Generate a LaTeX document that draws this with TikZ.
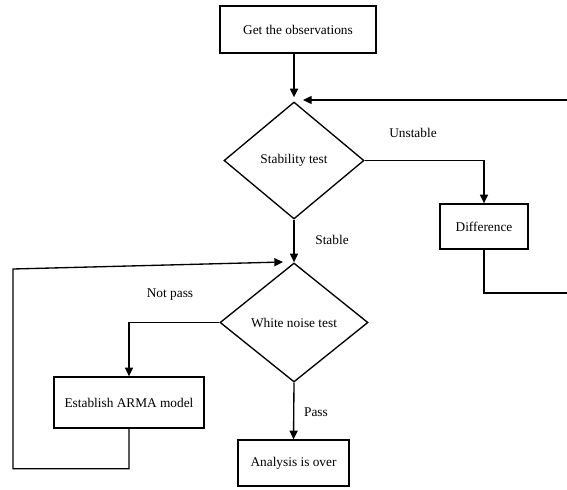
\documentclass[tikz,border=0pt]{standalone}
\usepackage{fontspec}
\setmainfont{Liberation Serif}
\usetikzlibrary{shapes.geometric,arrows.meta}
\tikzset{
  box/.style={draw,line width=1pt,inner sep=0pt},
  test/.style={draw,diamond,line width=1pt,inner sep=0pt},
  line/.style={line width=1pt},
  arr/.style={line,-{Triangle[length=6.5pt,width=6pt]}},
}
\begin{document}
\begin{tikzpicture}[x=0.75pt,y=-0.75pt,font=\fontsize{10}{12}\selectfont]
\useasboundingbox (0,0) rectangle (567,489);
\node[box,minimum width=117pt,minimum height=35.25pt] (obs) at (298,29.5) {Get the observations};
\node[test,minimum width=105pt,minimum height=87.75pt] (stab) at (294,160.5) {Stability test};
\node[box,minimum width=66pt,minimum height=33.75pt] (diff) at (484,226.5) {Difference};
\node[test,minimum width=111pt,minimum height=89.25pt] (wn) at (294,322.5) {White noise test};
\node[box,minimum width=112.5pt,minimum height=38.25pt] (arma) at (129,402.5) {Establish ARMA model};
\node[box,minimum width=83.25pt,minimum height=34.5pt] (over) at (293.5,463) {Analysis is over};
\node (lu) at (413,133) {Unstable};
\node (ls) at (332,240) {Stable};
\node (ln) at (170,295) {Not pass};
\node (lp) at (316,412) {Pass};
\coordinate (rtop) at (567,100);
\coordinate (rbot) at (567,293);
\coordinate (in1) at (303,100);
\coordinate (in2) at (283,262);
\draw[arr,shorten >=3pt] (obs.south -| stab.north) -- (stab.north);
\draw[arr] (rtop) -- (in1);
\draw[arr] (stab.east) -| (diff.north);
\draw[line] (diff.south) |- (rbot);
\draw[arr] (stab.south) -- (wn.north);
\draw[arr] (wn.west) -| (arma.north);
\draw[arr] (wn.south) -- (over.north);
\draw[arr] (arma.south) -- ++(0,40) -| (13,269) -- (in2);
\end{tikzpicture}
\end{document}
